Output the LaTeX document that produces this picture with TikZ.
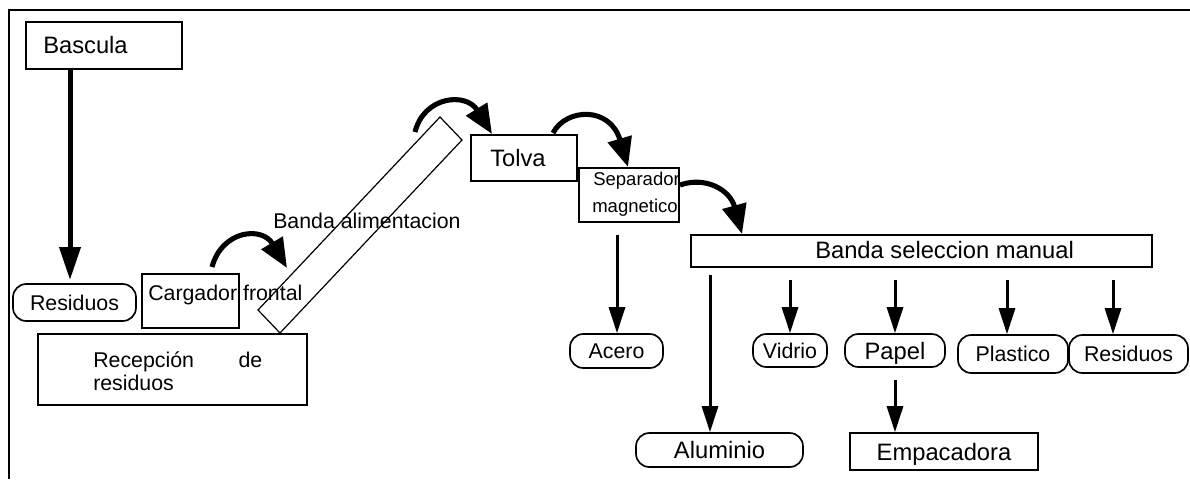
\documentclass[tikz,border=0pt]{standalone}
\usepackage{fontspec}
\setmainfont{Liberation Sans}
\usetikzlibrary{arrows.meta,fit,calc}
\begin{document}
\begin{tikzpicture}[x=0.75pt,y=-0.75pt,
  box/.style={draw, line width=1.25pt, inner sep=0pt},
  rbox/.style={draw, line width=1.25pt, inner sep=0pt, rounded corners=10pt,
    font=\fontsize{16}{19}\selectfont, text height=11.5pt, text depth=0pt},
  rboxbig/.style={rbox, font=\fontsize{17.8}{21}\selectfont, text height=12.8pt},
  txt/.style={inner sep=0pt, anchor=base west, font=\fontsize{16}{19}\selectfont},
  bigtxt/.style={txt, font=\fontsize{17.8}{21}\selectfont},
  smalltxt/.style={txt, font=\fontsize{13.9}{17}\selectfont},
  flow/.style={line width=2.25pt, -{Triangle[length=19.5pt,width=12pt]}},
  bigflow/.style={line width=3.75pt, -{Triangle[length=24.75pt,width=15.5pt]}},
  curve/.style={line width=3.8pt, -{Triangle[length=22pt,width=18pt]}},
]
\useasboundingbox (0,0) rectangle (1190,479);
% frame
\draw[line width=1.8pt] (9,479) -- (9,10) -- (1190,10);

% boxes
\node[box, fit={(26,22) (182,69)}] (bascula) {};
\node[bigtxt] (basculaT) at (43,53) {Bascula};
\node[rbox, minimum width=92.25pt, minimum height=27.75pt] (resL) at (74.5,302.5) {Residuos};
\node[box, fit={(142,274) (239,328)}] (cargador) {};
\node[txt] (cargadorT) at (148,300) {Cargador frontal};
\node[box, fit={(38,334) (307,405)}] (recepcion) {};
\node[txt] (recepcionA) at (93,367) {\makebox[126.75pt][s]{Recepción de}};
\node[txt] (recepcionB) at (93,390) {residuos};

% feeding belt
\draw[line width=0.9pt] (258,310) -- (280,333) -- (462,140) -- (440,117) -- cycle;
\node[txt] (bandaT) at (273,228) {Banda alimentacion};

\node[box, fit={(471,135) (577,181)}] (tolva) {};
\node[bigtxt] (tolvaT) at (490,166) {Tolva};
\node[box, fit={(579,168) (679,222)}] (separador) {};
\node[smalltxt] (sepA) at (593,185) {Separador};
\node[smalltxt] (sepB) at (592,212) {magnetico};

\node[box, fit={(691,235) (1152,267)}] (seleccion) {};
\node[bigtxt] (seleccionT) at (815,258) {Banda seleccion manual};

\node[rbox, minimum width=69.75pt, minimum height=25.5pt] (acero) at (616.5,351) {Acero};
\node[rboxbig, minimum width=125.25pt, minimum height=25.5pt] (aluminio) at (719.5,450) {Aluminio};
\node[rbox, minimum width=55.5pt, minimum height=24.75pt] (vidrio) at (790,350.5) {Vidrio};
\node[rboxbig, minimum width=75pt, minimum height=24.75pt] (papel) at (895,350.5) {Papel};
\node[rbox, minimum width=82.5pt, minimum height=28.5pt] (plastico) at (1013,354) {Plastico};
\node[rbox, minimum width=89.25pt, minimum height=28.5pt] (resR) at (1128.5,354) {Residuos};
\node[box, minimum width=141pt, minimum height=27.75pt, font=\fontsize{17.8}{21}\selectfont,
  text height=12.8pt, text depth=0pt] (empacadora) at (944,451.5) {Empacadora};

% straight arrows
\coordinate (xa) at (70,69);
\draw[bigflow] (xa) -- (xa |- 0,280);
\coordinate (sa) at (617,235);
\draw[flow] (sa) -- (sa |- acero.north);
\coordinate (sb) at (710,275);
\draw[flow] (sb) -- (sb |- aluminio.north);
\coordinate (sc) at (790,280);
\draw[flow] (sc) -- (sc |- vidrio.north);
\coordinate (sd) at (895,280);
\draw[flow] (sd) -- (sd |- papel.north);
\coordinate (se) at (1007,280);
\draw[flow] (se) -- (se |- plastico.north);
\coordinate (sf) at (1113,280);
\draw[flow] (sf) -- (sf |- resR.north);
\coordinate (sg) at (895,380);
\draw[flow] (sg) -- (sg |- empacadora.north);

% curved arrows
\coordinate (c1s) at (212,267);
\coordinate (c1e) at (287,268);
\draw[curve] (c1s) .. controls (222,230) and (262,226) .. (c1e);
\coordinate (c2s) at (415,132);
\coordinate (c2e) at (492,134);
\draw[curve] (c2s) .. controls (424,96) and (466,92) .. (c2e);
\coordinate (c3s) at (553,133);
\coordinate (c3e) at (628,167);
\draw[curve] (c3s) .. controls (566,108) and (610,106) .. (c3e);
\coordinate (c4s) at (680,185);
\coordinate (c4e) at (742,234);
\draw[curve] (c4s) .. controls (706,176) and (730,190) .. (c4e);
\end{tikzpicture}
\end{document}
